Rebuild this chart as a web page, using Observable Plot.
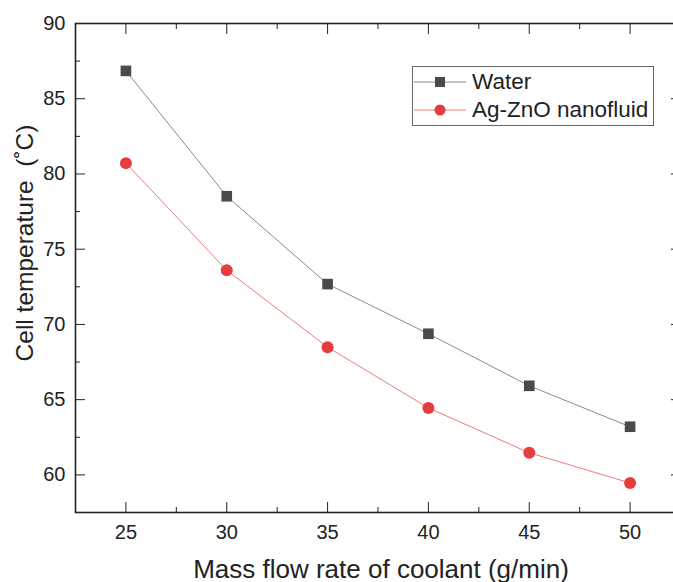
<!DOCTYPE html>
<html>
<head>
<meta charset="utf-8">
<script src="https://cdn.jsdelivr.net/npm/d3@7"></script>
<script src="https://cdn.jsdelivr.net/npm/@observablehq/plot@0.6"></script>
<style>
  html, body { margin: 0; padding: 0; background: #fff; overflow: hidden; }
  #wrap { position: relative; width: 673px; height: 582px; overflow: hidden; }
  #wrap > svg { max-width: none !important; width: 680px; height: 582px; }
  #legend { position: absolute; left: 412px; top: 66px; width: 242px; height: 60px;
            border: 1px solid #666; background: #fff; box-sizing: border-box; }
  #legend svg { display: block; }
</style>
</head>
<body>
<div id="wrap"></div>
<script>
// ---- data ----
const flowRate = [25, 30, 35, 40, 45, 50];
const water = [86.85, 78.52, 72.68, 69.38, 65.92, 63.2];
const agzno = [80.72, 73.6, 68.49, 64.45, 61.47, 59.46];
const seriesNames = ["Water", "Ag-ZnO nanofluid"];
const xMajorTicks = [25, 30, 35, 40, 45, 50];
const xMinorTicks = [27.5, 32.5, 37.5, 42.5, 47.5];
const yMajorTicks = [60, 65, 70, 75, 80, 85, 90];
const yMinorTicks = [62.5, 67.5, 72.5, 77.5, 82.5, 87.5];
const xLabel = "Mass flow rate of coolant (g/min)";
const yLabel = "Cell temperature\u00a0\u00a0(\u02daC)";

const waterRows = flowRate.map((x, i) => ({x, y: water[i]}));
const agRows = flowRate.map((x, i) => ({x, y: agzno[i]}));

const waterLine = "#8a8a8a", waterFill = "#4a4a4a";
const agLine = "#f07a7a", agFill = "#e53d3d";
const axisColor = "#222";
const blank = () => "";

const chart = Plot.plot({
  width: 680,
  height: 582,
  marginLeft: 75,
  marginRight: 0,
  marginTop: 23,
  marginBottom: 70,
  x: {domain: [22.5, 52.5]},
  y: {domain: [57.5, 90]},
  style: {fontFamily: "'Liberation Sans', Arial, sans-serif", fontSize: "20px", color: axisColor, background: "#fff", maxWidth: "none"},
  marks: [
    // tick labels
    Plot.axisX(xMajorTicks, {anchor: "bottom", tickSize: 0, tickPadding: 12, label: null, fontSize: 20, fill: axisColor}),
    Plot.axisY(yMajorTicks, {anchor: "left", tickSize: 0, tickPadding: 10, label: null, fontSize: 20, fill: axisColor}),
    // inward ticks
    Plot.axisX(xMajorTicks, {anchor: "bottom", tickSize: -10, tickFormat: blank, label: null, stroke: axisColor}),
    Plot.axisX(xMinorTicks, {anchor: "bottom", tickSize: -5, tickFormat: blank, label: null, stroke: axisColor}),
    Plot.axisX(xMajorTicks, {anchor: "top", tickSize: -10, tickFormat: blank, label: null, stroke: axisColor}),
    Plot.axisX(xMinorTicks, {anchor: "top", tickSize: -5, tickFormat: blank, label: null, stroke: axisColor}),
    Plot.axisY(yMajorTicks, {anchor: "left", tickSize: -10, tickFormat: blank, label: null, stroke: axisColor}),
    Plot.axisY(yMinorTicks, {anchor: "left", tickSize: -5, tickFormat: blank, label: null, stroke: axisColor}),
    Plot.axisY(yMajorTicks, {anchor: "right", tickSize: -10, tickFormat: blank, label: null, stroke: axisColor}),
    Plot.axisY(yMinorTicks, {anchor: "right", tickSize: -5, tickFormat: blank, label: null, stroke: axisColor}),
    Plot.frame({stroke: axisColor, strokeWidth: 1.6}),
    Plot.line(waterRows, {x: "x", y: "y", stroke: waterLine, strokeWidth: 1}),
    Plot.line(agRows, {x: "x", y: "y", stroke: agLine, strokeWidth: 1}),
    Plot.dot(waterRows, {x: "x", y: "y", symbol: "square", r: 6, fill: waterFill}),
    Plot.dot(agRows, {x: "x", y: "y", symbol: "circle", r: 6, fill: agFill}),
    Plot.text([xLabel], {frameAnchor: "bottom", textAnchor: "middle", lineAnchor: "bottom", dy: 65, dx: 3, fontSize: 26, fill: axisColor}),
    Plot.text([yLabel], {frameAnchor: "left", textAnchor: "middle", lineAnchor: "bottom", rotate: -90, dx: -43, dy: -25, fontSize: 24.5, fill: axisColor})
  ]
});

const wrap = document.getElementById("wrap");
wrap.appendChild(chart);

// legend
const legend = document.createElement("div");
legend.id = "legend";
const ns = "http://www.w3.org/2000/svg";
const lsvg = document.createElementNS(ns, "svg");
lsvg.setAttribute("width", 240);
lsvg.setAttribute("height", 58);
const rows = [
  {name: seriesNames[0], line: waterLine, fill: waterFill, sym: "square", cy: 15},
  {name: seriesNames[1], line: agLine, fill: agFill, sym: "circle", cy: 43}
];
for (const r of rows) {
  const ln = document.createElementNS(ns, "line");
  ln.setAttribute("x1", 1); ln.setAttribute("x2", 53);
  ln.setAttribute("y1", r.cy); ln.setAttribute("y2", r.cy);
  ln.setAttribute("stroke", r.line); ln.setAttribute("stroke-width", 1);
  lsvg.appendChild(ln);
  let m;
  if (r.sym === "square") {
    m = document.createElementNS(ns, "rect");
    m.setAttribute("x", 27 - 5); m.setAttribute("y", r.cy - 5);
    m.setAttribute("width", 10); m.setAttribute("height", 10);
  } else {
    m = document.createElementNS(ns, "circle");
    m.setAttribute("cx", 27); m.setAttribute("cy", r.cy); m.setAttribute("r", 5.5);
  }
  m.setAttribute("fill", r.fill);
  lsvg.appendChild(m);
  const t = document.createElementNS(ns, "text");
  t.setAttribute("x", 59); t.setAttribute("y", r.cy + 7);
  t.setAttribute("font-family", "'Liberation Sans', Arial, sans-serif");
  t.setAttribute("font-size", 22.5); t.setAttribute("fill", "#222");
  t.textContent = r.name;
  lsvg.appendChild(t);
}
legend.appendChild(lsvg);
wrap.appendChild(legend);
</script>
</body>
</html>
